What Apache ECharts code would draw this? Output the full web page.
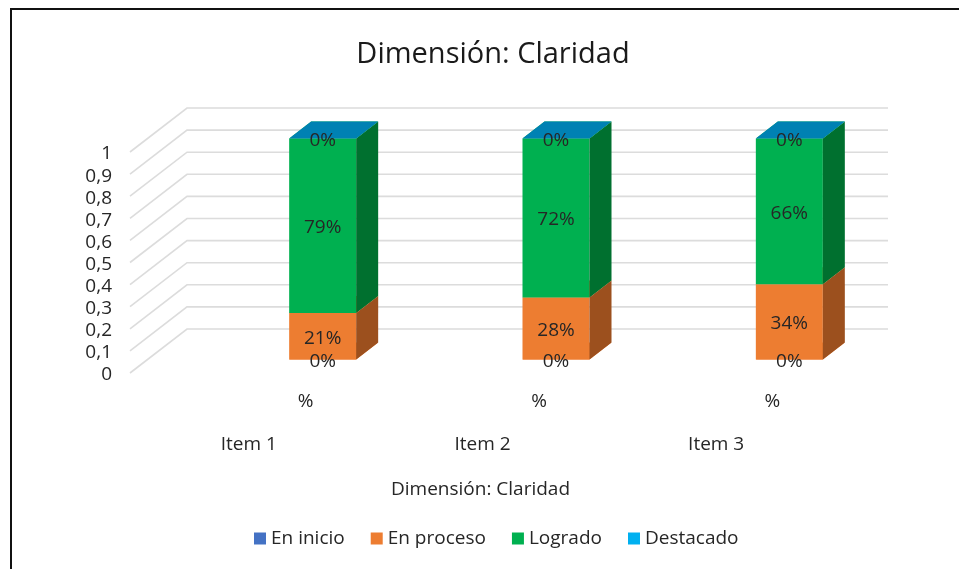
<!DOCTYPE html>
<html>
<head>
<meta charset="utf-8">
<title>Dimensión: Claridad</title>
<script src="https://cdn.jsdelivr.net/npm/echarts@6/dist/echarts.min.js"></script>
<style>
	html, body { margin: 0; padding: 0; background: #fff; }
	#chart { width: 959px; height: 569px; }
	#frame { position: absolute; left: 10px; top: 8px; right: 0; bottom: 0; border-left: 2px solid #111; border-top: 2px solid #111; pointer-events: none; }
</style>
</head>
<body>
<div id="chart"></div>
<div id="frame"></div>
<script>
	var titleText = 'Dimensión: Claridad';
	var items = ['Item 1', 'Item 2', 'Item 3'];
	var units = ['%', '%', '%'];
	var yTicks = [0, 0.1, 0.2, 0.3, 0.4, 0.5, 0.6, 0.7, 0.8, 0.9, 1];

	var enInicio = [0, 0, 0];
	var enProceso = [0.21, 0.28, 0.34];
	var logrado = [0.79, 0.72, 0.66];
	var destacado = [0, 0, 0];

	var fontName = '"Open Sans", sans-serif';
	var textColor = '#262626';

	// desplazamientos de la perspectiva 3D, en pixeles
	var wallDx = 57, wallDy = -46;
	var wallStartDy = -2;
	var barDx = 17, barDy = -13.5;
	var depthDx = 22, depthDy = -17;
	var barWidth = 67;

	function renderWalls(params, api) {
		var sys = params.coordSys;
		var y = api.coord([0, api.value(0)])[1];
		return {
			type: 'polyline',
			silent: true,
			shape: {
				points: [
					[sys.x, y + wallStartDy],
					[sys.x + wallDx, y + wallDy],
					[sys.x + wallDx + sys.width, y + wallDy]
				]
			},
			style: { fill: null, stroke: '#dcdcdc', lineWidth: 1.6 }
		};
	}

	function face(points, color) {
		return { type: 'polygon', shape: { points: points }, style: { fill: color } };
	}

	function makeRenderBar(sideColor, topColor, frontColor, labelDy) {
		return function(params, api) {
			var center = api.coord([api.value(0), 0])[0] + barDx;
			var y0 = api.coord([0, api.value(1)])[1] + barDy;
			var y1 = api.coord([0, api.value(2)])[1] + barDy;
			var x0 = center - barWidth / 2;
			var x1 = center + barWidth / 2;
			var share = api.value(2) - api.value(1);
			return {
				type: 'group',
				children: [
					face([[x0, y0], [x1, y0], [x1, y1], [x0, y1]], frontColor),
					face([[x1, y0], [x1 + depthDx, y0 + depthDy], [x1 + depthDx, y1 + depthDy], [x1, y1]], sideColor),
					face([[x0, y1], [x1, y1], [x1 + depthDx, y1 + depthDy], [x0 + depthDx, y1 + depthDy]], topColor),
					{
						type: 'text',
						z2: 50,
						style: {
							x: center,
							y: (y0 + y1) / 2 + labelDy,
							text: Math.round(share * 100) + '%',
							font: '19px ' + fontName,
							fill: textColor,
							align: 'center',
							verticalAlign: 'middle'
						}
					}
				]
			};
		};
	}

	// apila los valores: [categoria, base, tope]
	var running = items.map(function() { return 0; });
	function stackRows(values) {
		return values.map(function(v, i) {
			var row = [i, running[i], running[i] + v];
			running[i] += v;
			return row;
		});
	}

	function barSeries(name, values, front, side, top, labelDy) {
		return {
			name: name,
			type: 'custom',
			xAxisIndex: 1,
			yAxisIndex: 1,
			itemStyle: { color: front },
			encode: { x: 0, y: [1, 2] },
			data: stackRows(values),
			renderItem: makeRenderBar(side, top, front, labelDy)
		};
	}

	var chart = echarts.init(document.getElementById('chart'), null, { renderer: 'canvas' });
	chart.setOption({
		animation: false,
		backgroundColor: '#fff',
		textStyle: { fontFamily: fontName, color: textColor },
		title: {
			text: titleText,
			left: 488,
			top: 35,
			textAlign: 'center',
			textStyle: { fontSize: 29, fontWeight: 'normal', color: '#1a1a1a', fontFamily: fontName }
		},
		legend: {
			left: 249,
			top: 524,
			icon: 'rect',
			itemWidth: 12,
			itemHeight: 12,
			itemGap: 26,
			textStyle: { fontSize: 19, color: textColor, fontFamily: fontName },
			data: ['En inicio', 'En proceso', 'Logrado', 'Destacado']
		},
		grid: [
			{ left: 130, top: 154, width: 701, height: 221 },
			{ left: 189, top: 152, width: 700, height: 221 }
		],
		xAxis: [
			{
				type: 'category',
				gridIndex: 0,
				data: items,
				axisLine: { show: false },
				axisTick: { show: false },
				axisLabel: { fontSize: 19, margin: 60, color: textColor, padding: [0, 0, 0, 4] },
				name: titleText,
				nameLocation: 'middle',
				nameGap: 105,
				nameTextStyle: { fontSize: 19, color: textColor }
			},
			{
				type: 'category',
				gridIndex: 1,
				data: units,
				axisLine: { show: false },
				axisTick: { show: false },
				axisLabel: { fontSize: 19, margin: 19, color: textColor, interval: 0 }
			}
		],
		yAxis: [
			{
				type: 'value',
				gridIndex: 0,
				min: 0,
				max: 1,
				interval: 0.1,
				axisLine: { show: false },
				axisTick: { show: false },
				splitLine: { show: false },
				axisLabel: {
					fontSize: 19,
					margin: 18,
					color: textColor,
					formatter: function(v) { return String(v).replace('.', ','); }
				}
			},
			{
				type: 'value',
				gridIndex: 1,
				min: 0,
				max: 1,
				interval: 0.1,
				show: false
			}
		],
		series: [
			{
				type: 'custom',
				xAxisIndex: 0,
				yAxisIndex: 0,
				silent: true,
				z: 1,
				encode: { y: 0 },
				data: yTicks.map(function(t) { return [t]; }),
				renderItem: renderWalls
			},
			barSeries('En inicio', enInicio, '#4472c4', '#2f5597', '#ed7d31', 2),
			barSeries('En proceso', enProceso, '#ed7d31', '#9c501e', '#ed7d31', 2),
			barSeries('Logrado', logrado, '#00b050', '#00702f', '#00b050', 2),
			barSeries('Destacado', destacado, '#00b0f0', '#0081b3', '#0081b3', 2)
		]
	});
</script>
</body>
</html>
